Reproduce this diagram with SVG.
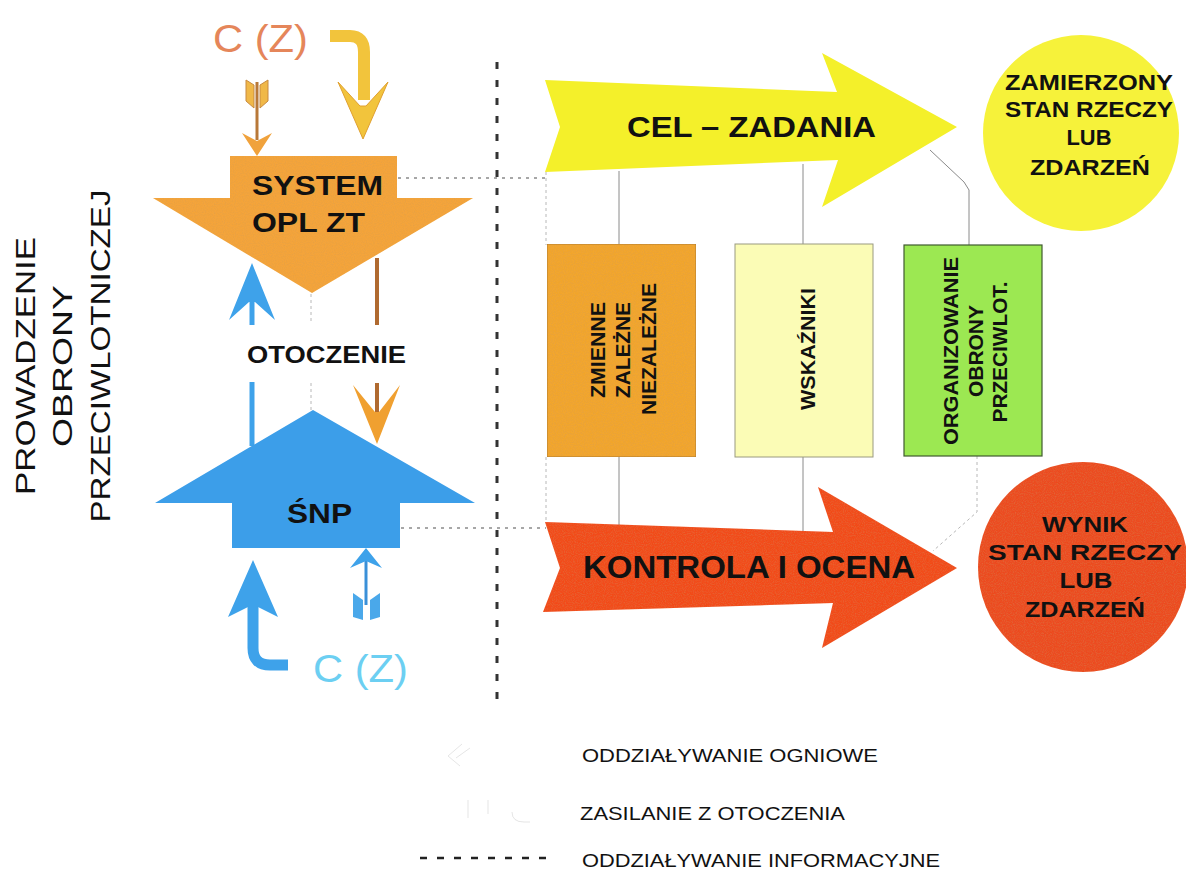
<svg xmlns="http://www.w3.org/2000/svg" width="1186" height="873" viewBox="0 0 1186 873">
  <style>
    .b { font-family: "Liberation Sans", Arial, sans-serif; font-weight: bold; fill: #111; }
    .r { font-family: "Liberation Sans", Arial, sans-serif; fill: #111; }
    .thin { stroke: #8a8a8a; stroke-width: 1; fill: none; }
    .dash { stroke: #8a8a8a; stroke-width: 1.5; stroke-dasharray: 3 5; fill: none; }
    .lt { stroke: #b8b8b8; stroke-width: 1; stroke-dasharray: 3 3; fill: none; }
  </style>
  <defs>
    <!-- faint grain used on the coloured shapes -->
    <filter id="grain" x="0" y="0" width="100%" height="100%">
      <feTurbulence type="fractalNoise" baseFrequency="0.9" numOctaves="1" seed="3" result="n"/>
      <feColorMatrix in="n" type="matrix" values="0 0 0 0 0.5  0 0 0 0 0.3  0 0 0 0 0.1  0 0 0 -0.6 0.35" result="m"/>
      <feComposite in="m" in2="SourceGraphic" operator="in" result="s"/>
      <feMerge><feMergeNode in="SourceGraphic"/><feMergeNode in="s"/></feMerge>
    </filter>
  </defs>
  <rect width="1186" height="873" fill="#ffffff"/>

  <!-- side title -->
  <g id="title">
    <text class="r" font-size="28" text-anchor="middle" textLength="258" lengthAdjust="spacingAndGlyphs" transform="translate(35,366) rotate(-90)">PROWADZENIE</text>
    <text class="r" font-size="28" text-anchor="middle" textLength="162" lengthAdjust="spacingAndGlyphs" transform="translate(72,366) rotate(-90)">OBRONY</text>
    <text class="r" font-size="28" text-anchor="middle" textLength="333" lengthAdjust="spacingAndGlyphs" transform="translate(110,356) rotate(-90)">PRZECIWLOTNICZEJ</text>
  </g>

  <!-- connectors -->
  <g id="connectors">
    <!-- separator -->
    <line x1="497" y1="62" x2="497" y2="700" stroke="#333" stroke-width="3" stroke-dasharray="7 11"/>
    <!-- information links -->
    <line class="dash" x1="398" y1="178" x2="546" y2="178"/>
    <line class="dash" x1="401" y1="528" x2="546" y2="528"/>
    <line class="lt" x1="311" y1="294" x2="311" y2="324"/>
    <line class="lt" x1="311" y1="383" x2="311" y2="410"/>
    <!-- box ties -->
    <line class="lt" x1="546" y1="172" x2="546" y2="245"/>
    <line class="lt" x1="546" y1="457" x2="546" y2="522"/>
    <line class="thin" x1="619" y1="171" x2="619" y2="245"/>
    <line class="thin" x1="619" y1="457" x2="619" y2="525"/>
    <line class="thin" x1="803" y1="164" x2="803" y2="245"/>
    <line class="thin" x1="803" y1="457" x2="803" y2="531"/>
    <polyline class="thin" points="930,150 964,182 969,190 969,245" stroke="#a0a0a0"/>
    <polyline class="lt" points="977,456 977,512 933,551"/>

    <!-- fire action into the system -->
    <g id="fire-in-top">
      <polygon points="246,80 254,85 254,108 246,101" fill="#f0b848" stroke="#c88a40" stroke-width="1"/>
      <polygon points="260,85 268,80 268,101 260,108" fill="#f0b848" stroke="#c88a40" stroke-width="1"/>
      <line x1="257" y1="82" x2="257" y2="140" stroke="#b87838" stroke-width="3"/>
      <polygon points="242,133 257,141 272,133 257,156" fill="#f0a23c"/>
    </g>
    <!-- supply from the environment -->
    <g id="supply-top">
      <path d="M330,36 H350 Q364,36 364,52 V100" stroke="#f2c43c" stroke-width="12" fill="none"/>
      <polygon points="338,82 360,106 366,106 388,82 363,139" fill="#f2c43c" stroke="#e0a030" stroke-width="1"/>
    </g>
    <!-- system acting on the adversary -->
    <g id="system-to-snp">
      <line x1="377" y1="258" x2="377" y2="325" stroke="#b06a30" stroke-width="4"/>
      <line x1="377" y1="383" x2="377" y2="425" stroke="#b06a30" stroke-width="4"/>
      <polygon points="353,385 375,412 379,412 400,385 377,444" fill="#f0a030"/>
    </g>
    <!-- adversary acting on the system -->
    <g id="snp-to-system">
      <line x1="252" y1="290" x2="252" y2="325" stroke="#3ea2ea" stroke-width="5"/>
      <line x1="252" y1="382" x2="252" y2="446" stroke="#3ea2ea" stroke-width="5"/>
      <polygon points="252,263 275,320 255,302 249,302 229,320" fill="#3ea2ea"/>
    </g>
    <g id="supply-bottom">
      <path d="M288,665 H270 Q253,665 253,648 V605" stroke="#3ea2ea" stroke-width="11" fill="none"/>
      <polygon points="253,560 278,617 256,606 250,606 228,617" fill="#3ea2ea"/>
    </g>
    <g id="fire-in-bottom">
      <line x1="366" y1="558" x2="366" y2="605" stroke="#3a90d8" stroke-width="3"/>
      <polygon points="366,548 382,568 366,561 350,568" fill="#3ea2ea"/>
      <polygon points="353,593 363,600 363,620 353,617" fill="#4aa8ea"/>
      <polygon points="370,600 380,593 380,617 370,620" fill="#4aa8ea"/>
    </g>
  </g>

  <!-- C(Z) labels -->
  <text class="r" x="213" y="52" font-size="38" textLength="95" lengthAdjust="spacingAndGlyphs" style="fill:#e5865a">C (Z)</text>
  <text class="r" x="313" y="682" font-size="38" textLength="95" lengthAdjust="spacingAndGlyphs" style="fill:#6ccff2">C (Z)</text>

  <g id="system">
    <polygon points="230,156 397,156 397,198 473,198 312,293 153,198 230,198" fill="#f4a43a" filter="url(#grain)"/>
    <text class="b" x="252" y="195" font-size="27" textLength="131" lengthAdjust="spacingAndGlyphs">SYSTEM</text>
    <text class="b" x="252" y="232" font-size="27" textLength="113" lengthAdjust="spacingAndGlyphs">OPL ZT</text>
  </g>

  <g id="otoczenie">
    <text class="b" x="247" y="363" font-size="24" textLength="159" lengthAdjust="spacingAndGlyphs">OTOCZENIE</text>
  </g>

  <g id="snp">
    <polygon points="313,410 475,503 400,503 400,548 232,548 232,503 155,503" fill="#3c9ee9"/>
    <text class="b" x="287" y="523" font-size="28" textLength="65" lengthAdjust="spacingAndGlyphs">ŚNP</text>
  </g>

  <g id="cel-zadania">
    <polygon points="545,80 837,92 822,53 957,127 822,207 838,160 545,172 560,127" fill="#f4f02a"/>
    <text class="b" x="627" y="137" font-size="30" textLength="249" lengthAdjust="spacingAndGlyphs">CEL – ZADANIA</text>
  </g>

  <g id="kontrola">
    <polygon points="545,522 833,532 818,487 957,568 822,648 833,603 543,612 560,568" fill="#f24c1f" filter="url(#grain)"/>
    <text class="b" x="583" y="578" font-size="31" textLength="332" lengthAdjust="spacingAndGlyphs">KONTROLA I OCENA</text>
  </g>

  <g id="zmienne">
    <rect x="547" y="244" width="149" height="213" fill="#f2a62e" stroke="#b07a30" stroke-width="1" filter="url(#grain)"/>
    <text class="b" font-size="21" text-anchor="middle" textLength="96" lengthAdjust="spacingAndGlyphs" transform="translate(605,350) rotate(-90)">ZMIENNE</text>
    <text class="b" font-size="21" text-anchor="middle" textLength="96" lengthAdjust="spacingAndGlyphs" transform="translate(630,350) rotate(-90)">ZALEŻNE</text>
    <text class="b" font-size="21" text-anchor="middle" textLength="132" lengthAdjust="spacingAndGlyphs" transform="translate(656,349) rotate(-90)">NIEZALEŻNE</text>
  </g>

  <g id="wskazniki">
    <rect x="735" y="244" width="138" height="213" fill="#fbfcb6" stroke="#9a9a80" stroke-width="1"/>
    <text class="b" font-size="21" text-anchor="middle" textLength="122" lengthAdjust="spacingAndGlyphs" transform="translate(815,349) rotate(-90)">WSKAŹNIKI</text>
  </g>

  <g id="organizowanie">
    <rect x="904" y="245" width="138" height="211" fill="#9ce852" stroke="#405a30" stroke-width="1.2"/>
    <text class="b" font-size="21" text-anchor="middle" textLength="188" lengthAdjust="spacingAndGlyphs" transform="translate(958,351) rotate(-90)">ORGANIZOWANIE</text>
    <text class="b" font-size="21" text-anchor="middle" textLength="92" lengthAdjust="spacingAndGlyphs" transform="translate(983,351) rotate(-90)">OBRONY</text>
    <text class="b" font-size="21" text-anchor="middle" textLength="141" lengthAdjust="spacingAndGlyphs" transform="translate(1007,352) rotate(-90)">PRZECIWLOT.</text>
  </g>

  <g id="zamierzony">
    <circle cx="1081" cy="133" r="98" fill="#f6f23a"/>
    <text class="b" x="1089" y="90" font-size="22" text-anchor="middle" textLength="168" lengthAdjust="spacingAndGlyphs">ZAMIERZONY</text>
    <text class="b" x="1089" y="117" font-size="22" text-anchor="middle" textLength="168" lengthAdjust="spacingAndGlyphs">STAN RZECZY</text>
    <text class="b" x="1089" y="145" font-size="22" text-anchor="middle" textLength="45" lengthAdjust="spacingAndGlyphs">LUB</text>
    <text class="b" x="1090" y="175" font-size="22" text-anchor="middle" textLength="120" lengthAdjust="spacingAndGlyphs">ZDARZEŃ</text>
  </g>

  <g id="wynik">
    <circle cx="1083" cy="567" r="105" fill="#ec4c22" filter="url(#grain)"/>
    <text class="b" x="1085" y="532" font-size="22" text-anchor="middle" textLength="86" lengthAdjust="spacingAndGlyphs">WYNIK</text>
    <text class="b" x="1085" y="560" font-size="22" text-anchor="middle" textLength="194" lengthAdjust="spacingAndGlyphs">STAN RZECZY</text>
    <text class="b" x="1086" y="588" font-size="22" text-anchor="middle" textLength="53" lengthAdjust="spacingAndGlyphs">LUB</text>
    <text class="b" x="1085" y="617" font-size="22" text-anchor="middle" textLength="120" lengthAdjust="spacingAndGlyphs">ZDARZEŃ</text>
  </g>

  <!-- legend -->
  <g id="legend">
    <g opacity="0.25" stroke="#999" stroke-width="1" fill="none">
      <path d="M462,744 L448,756 L460,766"/>
      <path d="M470,748 L456,758"/>
      <path d="M468,800 V818 M488,800 V814 M512,812 Q512,822 524,822 H530"/>
    </g>
    <line x1="420" y1="858" x2="556" y2="858" stroke="#222" stroke-width="2.5" stroke-dasharray="7 10"/>
    <text class="r" x="582" y="762" font-size="19" textLength="296" lengthAdjust="spacingAndGlyphs">ODDZIAŁYWANIE OGNIOWE</text>
    <text class="r" x="580" y="820" font-size="19" textLength="265" lengthAdjust="spacingAndGlyphs">ZASILANIE Z OTOCZENIA</text>
    <text class="r" x="582" y="867" font-size="19" textLength="358" lengthAdjust="spacingAndGlyphs">ODDZIAŁYWANIE INFORMACYJNE</text>
  </g>
</svg>
